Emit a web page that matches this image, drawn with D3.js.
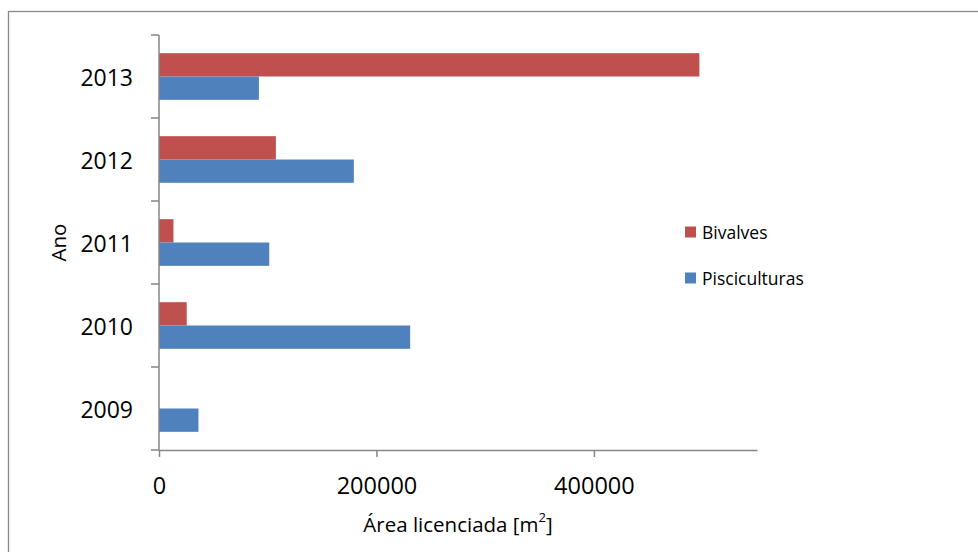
<!DOCTYPE html>
<html>
<head>
<meta charset="utf-8">
<script src="https://cdn.jsdelivr.net/npm/d3@7"></script>
<style>
  html, body { margin: 0; padding: 0; background: #fff; }
  svg { display: block; font-family: "Open Sans", "Liberation Sans", sans-serif; }
</style>
</head>
<body>
<svg id="chart" width="978" height="552"></svg>
<script>
// Licensed area per year, by activity
const years = ["2009", "2010", "2011", "2012", "2013"];
const seriesNames = ["Bivalves", "Pisciculturas"];
const bivalves = [0, 25500, 13300, 107500, 497000];
const pisciculturas = [36300, 231000, 101400, 179200, 91900];
const xTicks = [0, 200000, 400000];
const colors = { "Bivalves": "#C0504D", "Pisciculturas": "#4F81BD" };

const svg = d3.select("#chart");

// outer chart frame
svg.append("rect")
  .attr("x", 8.5).attr("y", 11.5)
  .attr("width", 1000).attr("height", 600)
  .attr("fill", "none").attr("stroke", "#888").attr("stroke-width", 1.3);

const plot = { left: 159, right: 757, top: 35, bottom: 450 };

const x = d3.scaleLinear().domain([0, 550000]).range([plot.left, plot.right]);
const y = d3.scaleBand().domain(years.slice().reverse()).range([plot.top, plot.bottom]).paddingInner(0).paddingOuter(0);
const inner = d3.scaleBand().domain(seriesNames).range([0, y.bandwidth()]).paddingInner(0).paddingOuter(0.78);

const rows = years.map((yr, i) => ({ year: yr, Bivalves: bivalves[i], Pisciculturas: pisciculturas[i] }));

// bars
const g = svg.append("g");
rows.forEach(r => {
  seriesNames.forEach(s => {
    if (r[s] <= 0) return;
    g.append("rect")
      .attr("x", x(0))
      .attr("y", y(r.year) + inner(s))
      .attr("width", x(r[s]) - x(0))
      .attr("height", inner.bandwidth())
      .attr("fill", colors[s]);
  });
});

// y axis (category ticks on band edges)
const yAxis = svg.append("g").attr("transform", `translate(${plot.left},0)`);
yAxis.append("line")
  .attr("x1", 0).attr("x2", 0).attr("y1", plot.top).attr("y2", plot.bottom)
  .attr("stroke", "#868686").attr("stroke-width", 1.5);
const edges = years.map(yr => y(yr)).concat([plot.bottom]);
yAxis.selectAll("line.tick").data(edges).enter().append("line")
  .attr("class", "tick")
  .attr("x1", -8).attr("x2", 0).attr("y1", d => d).attr("y2", d => d)
  .attr("stroke", "#868686").attr("stroke-width", 1.5);
yAxis.selectAll("text").data(years).enter().append("text")
  .attr("x", -26).attr("y", d => y(d) + y.bandwidth() / 2)
  .attr("text-anchor", "end").attr("dominant-baseline", "central")
  .attr("font-size", 23).attr("fill", "#000")
  .text(d => d);

// x axis
const xAxis = svg.append("g").attr("transform", `translate(0,${plot.bottom})`)
  .call(d3.axisBottom(x).tickValues(xTicks).tickSize(7).tickSizeOuter(0).tickFormat(d3.format("d")));
xAxis.select(".domain").attr("stroke", "#868686").attr("stroke-width", 1.5);
xAxis.selectAll(".tick line").attr("stroke", "#868686").attr("stroke-width", 1.5);
xAxis.selectAll(".tick text")
  .attr("font-size", 23.5).attr("fill", "#000").attr("font-family", "'Open Sans', sans-serif")
  .attr("dy", null).attr("y", 35).attr("dominant-baseline", "central");

// axis titles
const xTitle = svg.append("text")
  .attr("x", (plot.left + plot.right) / 2).attr("y", 524)
  .attr("text-anchor", "middle").attr("dominant-baseline", "central")
  .attr("font-size", 20.5).attr("fill", "#000");
xTitle.append("tspan").text("Área licenciada [m");
xTitle.append("tspan").attr("baseline-shift", "7").attr("font-size", 13).text("2");
xTitle.append("tspan").text("]");

svg.append("text")
  .attr("transform", `translate(58,${(plot.top + plot.bottom) / 2}) rotate(-90)`)
  .attr("text-anchor", "middle").attr("dominant-baseline", "central")
  .attr("font-size", 20.5).attr("fill", "#000")
  .text("Ano");

// legend
const legend = svg.append("g").attr("transform", "translate(685,232)");
seriesNames.forEach((s, i) => {
  const row = legend.append("g").attr("transform", `translate(0,${i * 46})`);
  row.append("rect").attr("x", 0).attr("y", -5.5).attr("width", 11).attr("height", 11).attr("fill", colors[s]);
  row.append("text").attr("x", 17).attr("y", 0)
    .attr("dominant-baseline", "central").attr("font-size", 17.5).attr("fill", "#000")
    .text(s);
});
</script>
</body>
</html>
